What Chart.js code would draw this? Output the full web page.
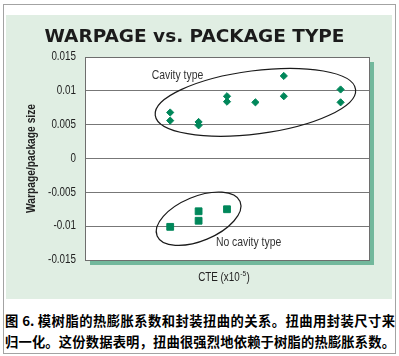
<!DOCTYPE html>
<html><head><meta charset="utf-8">
<script src="https://cdn.jsdelivr.net/npm/chart.js@4/dist/chart.umd.min.js"></script>
<style>
html,body{margin:0;padding:0;background:#fff;}
#frame{position:absolute;left:3px;top:4px;width:391px;height:348px;border:1px solid #a3a3a3;}
#panel{position:absolute;left:6px;top:15px;width:386px;height:284px;background:#e0eee3;}
#c{position:absolute;left:0;top:0;}
.cap{position:absolute;left:5px;width:390px;font-family:"Noto Sans CJK SC";font-weight:bold;font-size:13.3px;line-height:20px;color:#000;text-align:justify;text-align-last:justify;}
</style></head>
<body>
<div id="frame"></div><div id="panel"></div>
<canvas id="c" width="399" height="300"></canvas>
<div class="cap" style="top:311px">图 6. 模树脂的热膨胀系数和封装扭曲的关系。扭曲用封装尺寸来</div>
<div class="cap" style="top:332px">归一化。这份数据表明，扭曲很强烈地依赖于树脂的热膨胀系数。</div>
<script>
// ---- data ----
const seriesNames = ['Cavity type', 'No cavity type'];
const cavityX = [3, 3, 4, 4, 5, 5, 6, 7, 7, 9, 9];
const cavityY = [0.0068, 0.0056, 0.0054, 0.0049, 0.0092, 0.0084, 0.0083, 0.0122, 0.0092, 0.0102, 0.0083];
const noCavityX = [3, 4, 4, 5];
const noCavityY = [-0.0101, -0.0078, -0.0092, -0.0075];
const yTickLabels = ['-0.015', '-0.01', '-0.005', '0', '0.005', '0.01', '0.015'];
const chartTitle = 'WARPAGE vs. PACKAGE TYPE';
const yTitle = 'Warpage/package size';
const xTitleMain = 'CTE (x10';
const xTitleSup = '-5';
const xTitleEnd = ')';

// ---- annotation placement (data units for centres) ----
const ellipses = [
  {cx: 6.0, cy: 0.0083, rx: 101, ry: 31.6, angle: -7.4},
  {cx: 4.0, cy: -0.0089, rx: 44.9, ry: 22.1, angle: -22.5}
];
const labelPos = [{x: 2.35, y: 0.0122}, {x: 4.61, y: -0.01245}];

const GREEN = '#00875a';
const FONT = "'Liberation Sans', Arial, sans-serif";
const SQ = 0.82; // horizontal squeeze to mimic a condensed face

function squeezedText(ctx, text, x, y, font, align, rot) {
  ctx.save();
  ctx.font = font;
  ctx.translate(x, y);
  if (rot) ctx.rotate(rot);
  ctx.scale(SQ, 1);
  ctx.textAlign = align;
  ctx.textBaseline = 'middle';
  ctx.fillText(text, 0, 0);
  ctx.restore();
}

const bgPlugin = {
  id: 'bg',
  beforeDraw(chart) {
    const {ctx, chartArea: a} = chart;
    ctx.save();
    ctx.fillStyle = '#72b89c';
    ctx.fillRect(a.right, a.top + 5, 5, a.bottom - a.top);
    ctx.fillRect(a.left + 5, a.bottom, a.right - a.left, 5);
    ctx.fillStyle = '#ffffff';
    ctx.fillRect(a.left, a.top, a.right - a.left, a.bottom - a.top);
    ctx.restore();
  },
  beforeDatasetsDraw(chart) {
    const {ctx, chartArea: a} = chart;
    ctx.save();
    ctx.strokeStyle = '#6e6e6e';
    ctx.lineWidth = 1;
    ctx.strokeRect(Math.round(a.left) + 0.5, Math.round(a.top) + 0.5, Math.round(a.right - a.left), Math.round(a.bottom - a.top));
    ctx.restore();
  }
};

const annPlugin = {
  id: 'ann',
  afterDatasetsDraw(chart) {
    const {ctx, chartArea: a} = chart;
    const xs = chart.scales.x, ys = chart.scales.y;
    ctx.save();
    ctx.strokeStyle = '#1a1a1a';
    ctx.lineWidth = 1.2;
    ellipses.forEach(e => {
      ctx.beginPath();
      ctx.ellipse(xs.getPixelForValue(e.cx), ys.getPixelForValue(e.cy), e.rx, e.ry, e.angle * Math.PI / 180, 0, Math.PI * 2);
      ctx.stroke();
    });
    ctx.fillStyle = '#333';
    labelPos.forEach((p, i) => {
      squeezedText(ctx, seriesNames[i], xs.getPixelForValue(p.x), ys.getPixelForValue(p.y), '12.7px ' + FONT, 'left');
    });
    // y tick labels from the library's ticks
    ctx.fillStyle = '#222';
    ys.ticks.forEach((t, i) => {
      squeezedText(ctx, yTickLabels[i], a.left - 9, ys.getPixelForValue(t.value), '12px ' + FONT, 'right');
    });
    // y title
    squeezedText(ctx, yTitle, 31.7, (a.top + a.bottom) / 2, 'bold 12.5px ' + FONT, 'center', -Math.PI / 2);
    // x axis title with superscript
    const mainFont = '12px ' + FONT, supFont = '8px ' + FONT;
    ctx.font = mainFont; const w1 = ctx.measureText(xTitleMain).width * SQ; const w3 = ctx.measureText(xTitleEnd).width * SQ;
    ctx.font = supFont; const w2 = ctx.measureText(xTitleSup).width * SQ;
    const total = w1 + w2 + w3 + 1;
    let x = (a.left + a.right) / 2 - 3 - total / 2;
    const y = a.bottom + 18;
    squeezedText(ctx, xTitleMain, x, y, mainFont, 'left'); x += w1 + 0.5;
    squeezedText(ctx, xTitleSup, x, y - 4, supFont, 'left'); x += w2 + 0.5;
    squeezedText(ctx, xTitleEnd, x, y, mainFont, 'left');
    ctx.restore();
  }
};

new Chart(document.getElementById('c'), {
  type: 'scatter',
  data: {
    datasets: [
      {label: seriesNames[0], data: cavityX.map((x, i) => ({x: x, y: cavityY[i]})),
       pointStyle: 'rectRot', pointRadius: 3.6, pointBorderWidth: 1, backgroundColor: GREEN, borderColor: GREEN},
      {label: seriesNames[1], data: noCavityX.map((x, i) => ({x: x, y: noCavityY[i]})),
       pointStyle: 'rect', pointRadius: 4.8, pointBorderWidth: 1, backgroundColor: GREEN, borderColor: GREEN}
    ]
  },
  options: {
    responsive: false, animation: false, events: [],
    layout: {padding: {left: 20, right: 30, top: 0, bottom: 40}},
    plugins: {
      legend: {display: false}, tooltip: {enabled: false},
      title: {display: true, text: chartTitle, color: '#1b1b1b',
        font: {family: 'DejaVu Sans', weight: 'bold', size: 18.5, lineHeight: 1.2},
        padding: {top: 25.6, bottom: 9.2}}
    },
    scales: {
      x: {type: 'linear', min: 0, max: 10, display: false},
      y: {
        min: -0.015, max: 0.015,
        ticks: {stepSize: 0.005, display: false},
        grid: {color: '#777', lineWidth: 1, drawTicks: false},
        border: {display: false},
        afterFit(s) { s.width = 65; }
      }
    }
  },
  plugins: [bgPlugin, annPlugin]
});
</script>
</body></html>
